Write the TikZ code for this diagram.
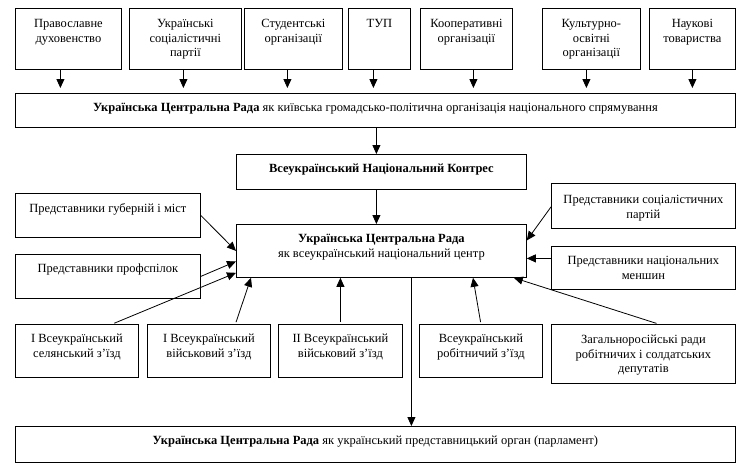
\documentclass[tikz,border=0pt]{standalone}
\usepackage{fontspec}
\setmainfont{Liberation Serif}
\usetikzlibrary{arrows.meta}
\tikzset{
  boxst/.style={draw, line width=0.8pt, inner sep=0pt, anchor=north west,
    font=\fontsize{12.5}{14.5}\selectfont},
  arr/.style={line width=0.8pt, -{Triangle[length=9pt,width=8pt]}},
  gap/.style={shorten >=5pt},
  lgap/.style={shorten <=2pt}
}
% \bx{name}{x}{y}{w}{h}{pad}{text}
\newcommand\bx[7]{\node[boxst, minimum width=#4pt, minimum height=#5pt] (#1) at (#2,#3)
  {\parbox[c][#5pt][t]{#4pt}{\centering\vspace*{#6pt}\strut#7}};}
\begin{document}
\begin{tikzpicture}[x=1pt,y=-1pt]
\useasboundingbox (0,0) rectangle (746,469);
% top row
\bx{p1}{15}{8}{106}{61}{9}{Православне\\духовенство}
\bx{p2}{129}{8}{112}{61}{9}{Українські\\соціалістичні\\партії}
\bx{p3}{244}{8}{98}{61}{9}{Студентські\\організації}
\bx{p4}{348}{8}{62}{61}{9}{ТУП}
\bx{p5}{420}{8}{92}{61}{9}{Кооперативні\\організації}
\bx{p6}{542}{8}{98}{61}{9}{Культурно-\\освітні\\організації}
\bx{p7}{649}{8}{86}{61}{9}{Наукові\\товариства}
% main boxes
\bx{main}{15}{93}{720}{34}{8}{\textbf{Українська Центральна Рада} як київська громадсько-політична організація національного спрямування}
\bx{kong}{236}{154}{290}{35}{8}{\textbf{Всеукраїнський Національний Контрес}}
\bx{cen}{236}{224}{290}{53}{8}{\textbf{Українська Центральна Рада}\\як всеукраїнський національний центр}
% side boxes
\bx{gub}{15}{193}{185}{44}{9}{Представники губерній і міст}
\bx{prof}{15}{254}{185}{44}{8}{Представники профспілок}
\bx{soc}{551}{183}{184}{45}{10}{Представники соціалістичних\\партій}
\bx{men}{551}{246}{184}{43}{8}{Представники національних\\меншин}
% bottom row
\bx{b1}{15}{324}{123}{53}{8}{I Всеукраїнський\\селянський з'їзд}
\bx{b2}{147}{324}{123}{53}{8}{I Всеукраїнський\\військовий з'їзд}
\bx{b3}{278}{324}{124}{53}{8}{II Всеукраїнський\\військовий з'їзд}
\bx{b4}{419}{324}{123}{53}{8}{Всеукраїнський\\робітничий з'їзд}
\bx{b5}{551}{324}{184}{59}{9}{Загальноросійські ради\\робітничих і солдатських\\депутатів}
\bx{parl}{15}{426}{720}{36}{8}{\textbf{Українська Центральна Рада} як український представницький орган (парламент)}
% top arrows
\coordinate (t1) at ([xshift=-8pt]p1.south);
\coordinate (t2) at ([xshift=-2pt]p2.south);
\coordinate (t3) at ([xshift=-6pt]p3.south);
\coordinate (t4) at ([xshift=-6pt]p4.south);
\coordinate (t5) at ([xshift=7pt]p5.south);
\coordinate (t6) at ([xshift=-5pt]p6.south);
\coordinate (t7) at ([xshift=0pt]p7.south);
\foreach \t in {t1,t2,t3,t4,t5,t6,t7}
  \draw[arr,gap] (\t) -- (\t |- main.north);
% vertical chain
\coordinate (m1) at ([xshift=1pt]main.south);
\draw[arr] (m1) -- (m1 |- kong.north);
\coordinate (k1) at ([xshift=-5pt]kong.south);
\draw[arr] (k1) -- (k1 |- cen.north);
\coordinate (c1) at ([xshift=30pt]cen.south);
\draw[arr] (c1) -- (c1 |- parl.north);
% side arrows
\draw[arr] (gub.east) -- (cen.west);
\draw[arr] (prof.east) -- ([yshift=-10.5pt]cen.west);
\draw[arr] ([yshift=-1pt]soc.west) -- ([yshift=10.5pt]cen.east);
\coordinate (n1) at ([yshift=9.5pt]men.west);
\draw[arr] (n1) -- (n1 -| cen.east);
% bottom arrows
\draw[arr,lgap] ([xshift=35.5pt]b1.north) -- ([yshift=5pt]cen.south west);
\draw[arr,lgap] ([xshift=26.5pt]b2.north) -- ([xshift=15pt]cen.south west);
\draw[arr,lgap] (b3.north) -- (b3.north |- cen.south);
\draw[arr,lgap] (b4.north) -- ([xshift=237pt]cen.south west);
\draw[arr,lgap] ([xshift=15pt]b5.north) -- ([xshift=-13pt]cen.south east);
\end{tikzpicture}
\end{document}
